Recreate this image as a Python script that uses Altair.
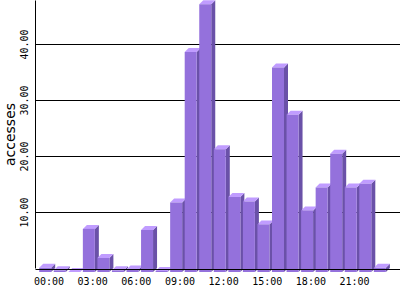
import altair as alt
import pandas as pd

# ---- data ----
hours = list(range(24))
accesses = [0.75, 0.3, 0.0, 7.7, 2.5, 0.3, 0.45, 7.5, 0.2, 12.4, 39.3, 47.8,
            21.9, 13.4, 12.6, 8.5, 36.5, 28.1, 11.0, 15.1, 21.1, 15.1, 15.75, 0.75]
tick_hours = [0, 3, 6, 9, 12, 15, 18, 21]
y_ticks = [10, 20, 30, 40]

# ---- 3-D bar geometry (converted to data units) ----
PX_X = 14.55          # pixels per hour
PX_Y = 5.6            # pixels per access
FL = -9.3 / PX_X      # front-face left edge, relative to hour
FR = 2.7 / PX_X       # front-face right edge
DX = 4 / PX_X         # depth, horizontal
DY = 4 / PX_Y         # depth, vertical

front_rows, side_rows, top_rows = [], [], []
for h, v in zip(hours, accesses):
    front_rows.append({"hour": h, "x": h + FL, "x2": h + FR, "lo": -DY, "hi": v - DY})
    side_rows += [
        {"hour": h, "x": h + FR, "lo": -DY, "hi": v - DY},
        {"hour": h, "x": h + FR + DX, "lo": 0.0, "hi": v},
    ]
    top_rows += [
        {"hour": h, "x": h + FL, "lo": v - DY, "hi": v - DY},
        {"hour": h, "x": h + FL + DX, "lo": v - DY, "hi": v},
        {"hour": h, "x": h + FR, "lo": v - DY, "hi": v},
        {"hour": h, "x": h + FR + DX, "lo": v, "hi": v},
    ]
front_df = pd.DataFrame(front_rows)
side_df = pd.DataFrame(side_rows)
top_df = pd.DataFrame(top_rows)

W, H = 365, 268
x0 = -13.5 / PX_X
xscale = alt.Scale(domain=[x0, x0 + W / PX_X], nice=False, zero=False)
yscale = alt.Scale(domain=[0, H / PX_Y], nice=False, zero=False)

MONO = "DejaVu Sans Mono"

x_axis = alt.Axis(values=tick_hours,
                  labelExpr="(datum.value < 10 ? '0' : '') + datum.value + ':00'",
                  ticks=False, grid=False, domainColor="black", domainWidth=1,
                  offset=1, zindex=1, labelFont=MONO, labelFontSize=10,
                  labelColor="black", labelPadding=7, title=None)
y_axis = alt.Axis(values=y_ticks, format=".2f", labelAngle=270,
                  labelAlign="center", labelBaseline="alphabetic",
                  labelPadding=8, ticks=False, grid=True, gridColor="black",
                  gridOpacity=1, gridWidth=1, domainColor="black",
                  labelFont=MONO, labelFontSize=10, labelColor="black",
                  title="accesses", titleFont="DejaVu Sans", titleFontSize=14,
                  titleFontWeight="normal", titleColor="black", titleAngle=270,
                  titleX=-21, titleY=134, titleAlign="center",
                  titleBaseline="alphabetic", zindex=0)

side = alt.Chart(side_df).mark_area(color="#6A51A8", interpolate="linear").encode(
    x=alt.X("x:Q", scale=xscale, axis=x_axis),
    y=alt.Y("hi:Q", scale=yscale, axis=y_axis),
    y2="lo:Q",
    detail="hour:N",
)

top = alt.Chart(top_df).mark_area(color="#C09CFF", interpolate="linear").encode(
    x=alt.X("x:Q", scale=xscale, axis=x_axis),
    y=alt.Y("hi:Q", scale=yscale, axis=y_axis),
    y2="lo:Q",
    detail="hour:N",
)

front = alt.Chart(front_df).mark_rect(color="#9471DC").encode(
    x=alt.X("x:Q", scale=xscale, axis=x_axis),
    x2="x2:Q",
    y=alt.Y("hi:Q", scale=yscale, axis=y_axis),
    y2="lo:Q",
)

chart = alt.layer(side, top, front).properties(
    width=W, height=H,
    autosize=alt.AutoSizeParams(type="none"),
    padding={"left": 35, "top": 0, "right": 0, "bottom": 32},
    background="white",
).configure_view(stroke=None)

chart.save("out.html", embed_options={"renderer": "svg", "actions": False})
